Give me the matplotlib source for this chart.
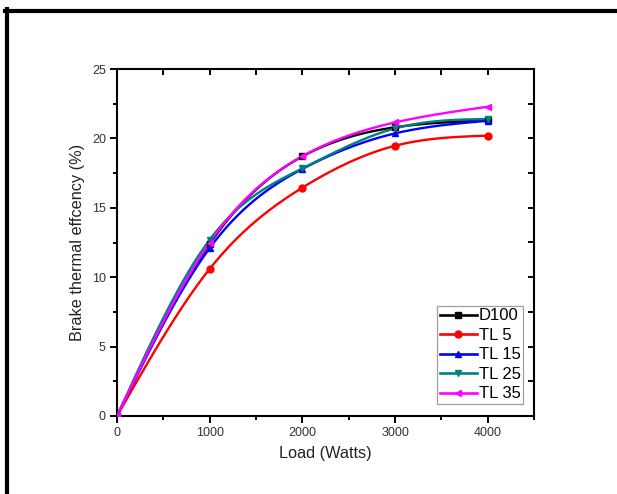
import numpy as np
import matplotlib
matplotlib.use("Agg")
import matplotlib.pyplot as plt
from matplotlib.lines import Line2D
from matplotlib.ticker import MultipleLocator

plt.rcParams['font.family'] = ['Liberation Sans', 'DejaVu Sans']

load = [0, 1000, 2000, 3000, 4000]
series_names = ["D100", "TL 5", "TL 15", "TL 25", "TL 35"]
d100 = [0, 12.4, 18.7, 20.8, 21.3]
tl5 = [0, 10.6, 16.45, 19.47, 20.2]
tl15 = [0, 12.1, 17.8, 20.36, 21.27]
tl25 = [0, 12.7, 17.84, 20.72, 21.4]
tl35 = [0, 12.5, 18.72, 21.15, 22.28]

colors = ["#000000", "#ff0000", "#0000ff", "#008080", "#ff00ff"]
markers = ["s", "o", "^", "v", "<"]


def natural_spline(x, y, n=200):
    x = np.asarray(x, float)
    y = np.asarray(y, float)
    k = len(x)
    h = np.diff(x)
    A = np.zeros((k, k))
    b = np.zeros(k)
    A[0, 0] = 1
    A[-1, -1] = 1
    for i in range(1, k - 1):
        A[i, i - 1] = h[i - 1]
        A[i, i] = 2 * (h[i - 1] + h[i])
        A[i, i + 1] = h[i]
        b[i] = 3 * ((y[i + 1] - y[i]) / h[i] - (y[i] - y[i - 1]) / h[i - 1])
    c = np.linalg.solve(A, b)
    xs = np.linspace(x[0], x[-1], n)
    ys = np.empty_like(xs)
    for j, xv in enumerate(xs):
        i = min(np.searchsorted(x, xv, side='right') - 1, k - 2)
        i = max(i, 0)
        dx = xv - x[i]
        bb = (y[i + 1] - y[i]) / h[i] - h[i] * (2 * c[i] + c[i + 1]) / 3
        dd = (c[i + 1] - c[i]) / (3 * h[i])
        ys[j] = y[i] + bb * dx + c[i] * dx ** 2 + dd * dx ** 3
    return xs, ys


fig = plt.figure(figsize=(6.17, 4.94), dpi=100)
ax = fig.add_axes([117 / 617, 1 - 416 / 494, (534 - 117) / 617, (416 - 69) / 494])

data = [d100, tl5, tl15, tl25, tl35]
handles = []
for name, vals, col, mk in zip(series_names, data, colors, markers):
    xs, ys = natural_spline(load, vals)
    ax.plot(xs, ys, color=col, lw=1.7, zorder=3)
    ax.plot(load, vals, linestyle='none', marker=mk, color=col, ms=5, zorder=4)
    handles.append(Line2D([], [], color=col, lw=1.9, marker=mk, ms=5, label=name))

ax.set_xlim(0, 4500)
ax.set_ylim(0, 25)
ax.xaxis.set_major_locator(MultipleLocator(1000))
ax.xaxis.set_minor_locator(MultipleLocator(500))
ax.yaxis.set_major_locator(MultipleLocator(5))
ax.yaxis.set_minor_locator(MultipleLocator(2.5))
ax.set_xticks([0, 1000, 2000, 3000, 4000])

for s in ax.spines.values():
    s.set_linewidth(1.5)

ax.tick_params(axis='both', which='major', direction='out', length=5, width=1.4,
               labelsize=9, colors='black', labelcolor='#333333', pad=3)
ax.tick_params(axis='both', which='minor', direction='out', length=3, width=1.4)

# inward ticks on top and right
secx = ax.secondary_xaxis('top')
secx.xaxis.set_major_locator(MultipleLocator(500))
secx.tick_params(direction='in', length=4, width=1.4, labeltop=False)
secx.set_xticklabels([])
secx.spines['top'].set_visible(False)
secy = ax.secondary_yaxis('right')
secy.yaxis.set_major_locator(MultipleLocator(2.5))
secy.tick_params(direction='in', length=4, width=1.4, labelright=False)
secy.set_yticklabels([])
secy.spines['right'].set_visible(False)

ax.set_xlabel("Load (Watts)", fontsize=11.7, color='#222222', labelpad=5)
ax.set_ylabel("Brake thermal effcency (%)", fontsize=11.7, color='#222222', labelpad=5)

leg = ax.legend(handles=handles, loc='lower right', bbox_to_anchor=(0.974, 0.035),
                fontsize=12, handlelength=2.2, handletextpad=0.12,
                borderpad=0.15, labelspacing=0.27, borderaxespad=0,
                frameon=True, fancybox=False)
leg.get_frame().set_edgecolor('#888888')
leg.get_frame().set_linewidth(0.9)

# outer frame (partially visible)
fig.add_artist(Line2D([5 / 617, 1.0], [1 - 11 / 494, 1 - 11 / 494], color='black', lw=3,
                      transform=fig.transFigure))
fig.add_artist(Line2D([7 / 617, 7 / 617], [0, 1 - 9 / 494], color='black', lw=3,
                      transform=fig.transFigure))

fig.savefig("out.png", dpi=100)
